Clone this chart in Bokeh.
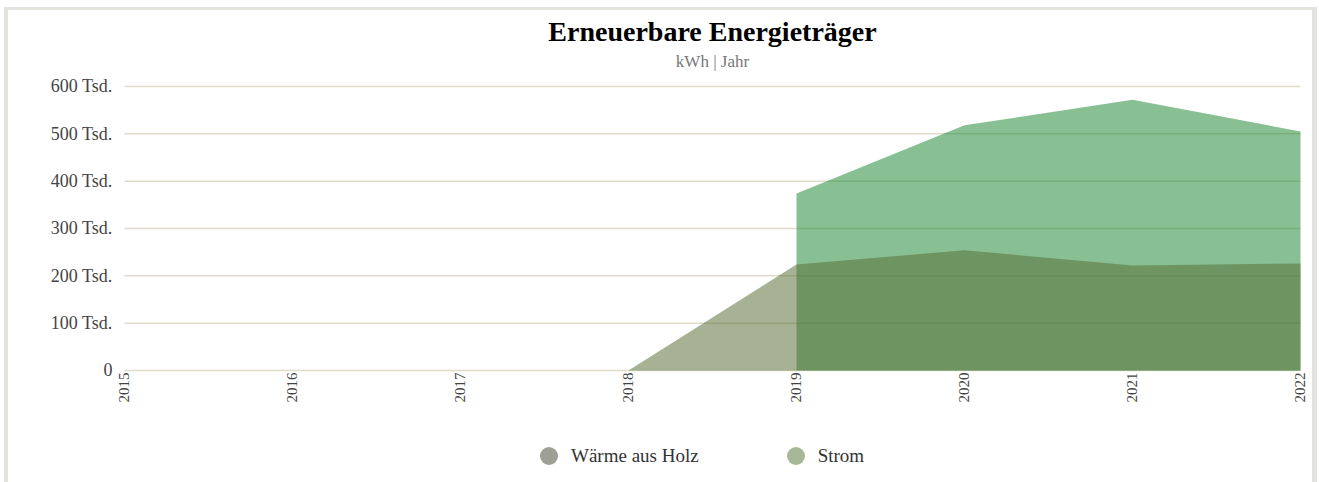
from bokeh.plotting import figure
from bokeh.models import (Title, Legend, LegendItem, CustomJSTickFormatter,
                          FixedTicker, Range1d)
from bokeh.embed import file_html
from bokeh.resources import INLINE

years = [2015, 2016, 2017, 2018, 2019, 2020, 2021, 2022]
holz = [None, None, None, 0, 224000, 254000, 222000, 226000]
strom = [None, None, None, None, 374000, 518000, 572000, 505000]
y_ticks = [0, 100000, 200000, 300000, 400000, 500000, 600000]
series_names = ["Wärme aus Holz", "Strom"]
legend_colors = ["#9ea096", "#a8b896"]

SERIF = "Liberation Serif"
BORDER = "#e4e4df"

# frame: x 116..1308 (2015 at 124px, 2022 at 1300px);
# y 84..482 (value 0 at 370px, 600 Tsd. at 86px)
PAD_YEARS = 8 / 168
p = figure(width=1319, height=482, output_backend="svg", toolbar_location=None,
           x_range=Range1d(years[0] - PAD_YEARS, years[-1] + PAD_YEARS),
           y_range=Range1d(-236620, 604225),
           min_border_left=116, min_border_right=11, min_border_bottom=0,
           min_border_top=84, outline_line_color=None,
           background_fill_color=None, border_fill_color=None)
g = f"linear-gradient({BORDER},{BORDER})"
p.styles = {
    "background": (f"{g} 4px 7px / 4px 100% no-repeat, "
                   f"{g} 1312px 7px / 5px 100% no-repeat, "
                   f"{g} 4px 7px / 1313px 3px no-repeat, white"),
}

# stacked from the frame outward: spacer, subtitle, title
p.add_layout(Title(text=" ", text_font_size="1px", standoff=10), "above")
p.add_layout(Title(text="kWh | Jahr", align="center",
                   text_font=SERIF, text_font_size="17px", text_font_style="normal",
                   text_color="#777777", standoff=2), "above")
p.add_layout(Title(text="Erneuerbare Energieträger", align="center", text_font=SERIF,
                   text_font_size="28px", text_font_style="bold",
                   text_color="#000000", standoff=4), "above")

# horizontal grid lines between first and last year
p.segment(x0=[years[0]] * len(y_ticks), x1=[years[-1]] * len(y_ticks),
          y0=y_ticks, y1=y_ticks, line_color="#e0dbca", line_width=1.5)

def pts(xs, ys):
    xx = [x for x, y in zip(xs, ys) if y is not None]
    yy = [y for y in ys if y is not None]
    return xx, yy

sx, sy = pts(years, strom)
hx, hy = pts(years, holz)

p.varea(x=sx, y1=[0] * len(sx), y2=sy, fill_color="#1a8631", fill_alpha=0.52)
p.varea(x=hx, y1=[0] * len(hx), y2=hy, fill_color="#566b31", fill_alpha=0.52)

# legend dummies (kept outside the visible range)
r1 = p.scatter(x=[2015], y=[-1e7], marker="circle", size=18,
               fill_color=legend_colors[0], line_color=None)
r2 = p.scatter(x=[2015], y=[-1e7], marker="circle", size=18,
               fill_color=legend_colors[1], line_color=None)
legend = Legend(items=[LegendItem(label=series_names[0], renderers=[r1]),
                       LegendItem(label=series_names[1], renderers=[r2])],
                orientation="horizontal", location=(410, 4),
                label_text_font=SERIF, label_text_font_size="19px",
                label_text_color="#333333", border_line_color=None,
                background_fill_alpha=0, spacing=74, glyph_width=45,
                glyph_height=45, label_standoff=0, padding=10, margin=0)
p.add_layout(legend, "center")

# y axis
p.yaxis.ticker = FixedTicker(ticks=y_ticks)
p.yaxis.formatter = CustomJSTickFormatter(code="""
    return tick == 0 ? "0" : (tick/1000).toFixed(0) + " Tsd.";
""")
p.yaxis.axis_line_color = None
p.yaxis.major_tick_line_color = None
p.yaxis.minor_tick_line_color = None
p.yaxis.major_label_text_font = SERIF
p.yaxis.major_label_text_font_size = "18px"
p.yaxis.major_label_text_color = "#444444"
p.yaxis.major_label_standoff = -2

# x axis, pinned to value 0
p.xaxis.ticker = FixedTicker(ticks=years)
p.xaxis.fixed_location = 0
p.xaxis.axis_line_color = None
p.xaxis.major_tick_line_color = None
p.xaxis.minor_tick_line_color = None
p.xaxis.major_label_orientation = 1.5708
p.xaxis.major_label_text_font = SERIF
p.xaxis.major_label_text_font_size = "15px"
p.xaxis.major_label_text_color = "#444444"
p.xaxis.major_label_standoff = -4

p.xgrid.grid_line_color = None
p.ygrid.grid_line_color = None

open("out.html", "w").write(file_html(p, INLINE))
